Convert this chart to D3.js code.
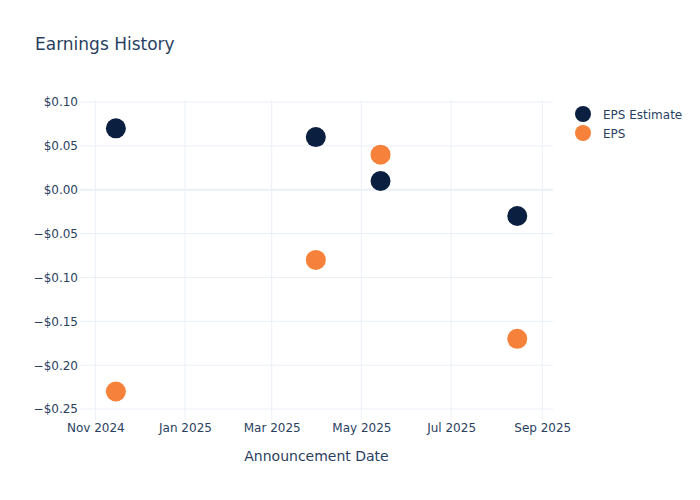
<!DOCTYPE html>
<html><head><meta charset="utf-8">
<script src="https://cdn.jsdelivr.net/npm/d3@7"></script>
<style>body{margin:0;background:#fff}svg{font-family:"DejaVu Sans",verdana,arial,sans-serif}</style>
</head><body><svg id="c" width="700" height="500"></svg>
<script>
const dates = ["2024-11-15","2025-03-31","2025-05-14","2025-08-15"];
const epsEstimate = [0.07, 0.06, 0.01, -0.03];
const eps = [-0.23, -0.08, 0.04, -0.17];
const seriesNames = ["EPS Estimate","EPS"];
const seriesColors = ["#0b1f41","#f5813a"];
const yTicks = [0.10,0.05,0.00,-0.05,-0.10,-0.15,-0.20,-0.25];
const xTicks = ["2024-11-01","2025-01-01","2025-03-01","2025-05-01","2025-07-01","2025-09-01"];
const xTickLabels = ["Nov 2024","Jan 2025","Mar 2025","May 2025","Jul 2025","Sep 2025"];

const FONT = "'DejaVu Sans',verdana,arial,sans-serif";
const svg = d3.select("#c");
const L=80, R=553, T=100, B=420;
const parse = d3.utcParse("%Y-%m-%d");
const day = 86400000;
const x = d3.scaleUtc().domain([new Date(parse("2024-11-01").getTime()-10.4*day), new Date(parse("2025-09-01").getTime()+7.3*day)]).range([L,R]);
const y = d3.scaleLinear().domain([-0.2625,0.1023]).range([B,T]);
const grid="#ebf0f8", txt="#2a3f5f";

// grid
svg.append("g").selectAll("line").data(xTicks).join("line")
  .attr("x1",d=>x(parse(d))).attr("x2",d=>x(parse(d))).attr("y1",T).attr("y2",B)
  .attr("stroke",grid).attr("stroke-width",1);
svg.append("g").selectAll("line").data(yTicks).join("line")
  .attr("x1",L).attr("x2",R).attr("y1",d=>y(d)).attr("y2",d=>y(d))
  .attr("stroke",grid).attr("stroke-width",d=>d===0?2:1);

const fmt = v => (v<0?"\u2212":"")+"$"+Math.abs(v).toFixed(2);
// y axis labels
const yAxis = d3.axisLeft(y).tickValues(yTicks).tickFormat(fmt).tickSize(0).tickPadding(0);
const gy = svg.append("g").attr("transform",`translate(${L-2},0)`).call(yAxis);
gy.select(".domain").remove();
gy.selectAll("text").attr("font-size",12).attr("fill",txt).attr("font-family",FONT);

// x axis labels
const xAxis = d3.axisBottom(x).tickValues(xTicks.map(parse)).tickFormat((d,i)=>xTickLabels[i]).tickSize(0).tickPadding(0);
const gx = svg.append("g").attr("transform",`translate(0,${B+3})`).call(xAxis);
gx.select(".domain").remove();
gx.selectAll("text").attr("font-size",12).attr("fill",txt).attr("font-family",FONT);

// points
const series=[epsEstimate, eps];
series.forEach((vals,si)=>{
  svg.append("g").selectAll("circle").data(vals).join("circle")
    .attr("cx",(d,i)=>x(parse(dates[i]))).attr("cy",d=>y(d)).attr("r",10)
    .attr("fill",seriesColors[si]);
});

// title
svg.append("text").attr("x",35).attr("y",50).attr("font-size",17).attr("fill",txt).attr("font-family",FONT).text("Earnings History");
// axis title
svg.append("text").attr("x",(L+R)/2).attr("y",461).attr("text-anchor","middle").attr("font-size",14).attr("fill",txt).attr("font-family",FONT).text("Announcement Date");

// legend
const lg = svg.append("g");
seriesNames.forEach((n,i)=>{
  lg.append("circle").attr("cx",583).attr("cy",114+i*19).attr("r",8).attr("fill",seriesColors[i]);
  lg.append("text").attr("x",603).attr("y",118.5+i*19).attr("font-size",12).attr("fill",txt).attr("font-family",FONT).text(n);
});
</script></body></html>
